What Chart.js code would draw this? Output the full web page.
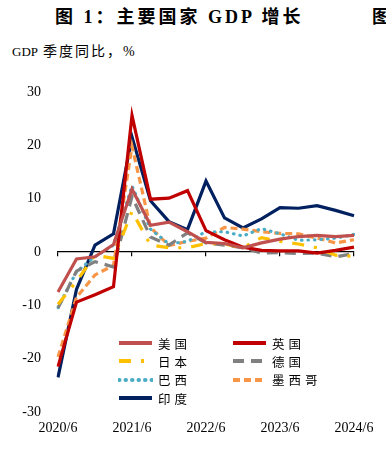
<!DOCTYPE html>
<html>
<head>
<meta charset="utf-8">
<script src="https://cdn.jsdelivr.net/npm/chart.js@4.4.1/dist/chart.umd.min.js"></script>
<style>
  html, body { margin: 0; padding: 0; background: #fff; }
  body { width: 386px; height: 464px; position: relative; overflow: hidden;
         font-family: "Liberation Serif", "Noto Sans CJK SC", serif; color: #000; }
  .title { position: absolute; top: 2px; font-size: 18px; font-weight: bold; letter-spacing: 3px; white-space: nowrap; }
  #subtitle { position: absolute; left: 12px; top: 40px; font-size: 14px; letter-spacing: 2px; white-space: nowrap; }
  #subtitle .en { font-size: 13px; letter-spacing: 0; margin-right: 5px; }
  #wrap { position: absolute; left: 0; top: 70px; width: 386px; height: 394px; }
  #legend { position: absolute; left: 118px; top: 334px; display: grid;
            grid-template-columns: 114px 110px; row-gap: 0; }
  .item { display: flex; align-items: center; height: 18.3px; font-size: 12.5px; letter-spacing: 4px;
          font-family: "Noto Sans CJK SC", serif; }
  .item svg { margin-right: 5px; }
</style>
</head>
<body>
<div class="title" style="left:55px">图 1：主要国家 GDP 增长</div>
<div class="title" style="left:372px">图</div>
<div id="subtitle"><span class="en">GDP</span>季度同比，%</div>
<div id="wrap"><canvas id="gdpChart" width="386" height="394"></canvas></div>
<div id="legend"></div>
<script>
const quarters = ['2020/6', '2020/9', '2020/12', '2021/3', '2021/6', '2021/9', '2021/12', '2022/3', '2022/6',
  '2022/9', '2022/12', '2023/3', '2023/6', '2023/9', '2023/12', '2024/3', '2024/6'];

const usa     = [-7.5, -1.3, -0.9, 1.4, 11.8, 5.0, 5.6, 3.8, 1.8, 1.6, 0.8, 1.7, 2.4, 2.9, 3.1, 2.9, 3.1];
const uk      = [-21.5, -9.4, -8.0, -6.5, 25.6, 9.9, 10.1, 11.5, 4.0, 2.3, 0.9, 0.3, 0.2, 0.2, -0.2, 0.3, 0.9];
const japan   = [-9.8, -5.5, -0.6, -1.2, 7.6, 1.3, 0.8, 0.8, 1.6, 1.5, 0.8, 2.7, 2.0, 1.5, 0.8, -0.6, -0.8];
const germany = [-10.5, -3.6, -1.8, -2.8, 10.4, 2.8, 1.3, 3.6, 1.7, 1.3, 0.8, -0.2, -0.1, -0.3, -0.2, -0.9, -0.3];
const brazil  = [-10.4, -3.7, -0.9, 1.3, 12.4, 4.3, 1.5, 2.0, 3.8, 3.8, 3.0, 4.4, 3.4, 2.2, 2.3, 2.6, 3.3];
const mexico  = [-19.7, -8.5, -4.3, -2.5, 19.8, 4.6, 1.2, 2.0, 2.6, 4.6, 4.3, 3.8, 3.5, 3.4, 2.6, 1.7, 2.3];
const india   = [-23.5, -7.0, 1.3, 3.4, 21.6, 9.6, 5.7, 4.2, 13.3, 6.4, 4.5, 6.2, 8.3, 8.2, 8.7, 7.8, 6.8];

const yTicks = [-30, -20, -10, 0, 10, 20, 30];

const serif = '"Liberation Serif", "Times New Roman", serif';

const line = (label, data, color, dash, cap) => ({
  label: label,
  data: data,
  borderColor: color,
  backgroundColor: color,
  borderWidth: 3.2,
  borderDash: dash || [],
  borderCapStyle: cap || 'butt',
  pointRadius: 0,
  tension: 0,
  fill: false
});

const datasets = [
  line('美国', usa, '#c0504d'),
  line('英国', uk, '#c00000'),
  line('日本', japan, '#ffc000', [12, 10, 3, 10]),
  line('德国', germany, '#808080', [11, 7]),
  line('巴西', brazil, '#4bacc6', [0.5, 6], 'round'),
  line('墨西哥', mexico, '#f79646', [7, 4]),
  line('印度', india, '#002060')
];

const yearTick = (i) => i % 4 === 0;

const ctx = document.getElementById('gdpChart').getContext('2d');
const chart = new Chart(ctx, {
  type: 'line',
  data: { labels: quarters, datasets: datasets },
  options: {
    responsive: false,
    animation: false,
    layout: { padding: { top: 22, right: 32, left: 8, bottom: 0 } },
    plugins: { legend: { display: false }, tooltip: { enabled: false } },
    scales: {
      x: {
        type: 'category',
        position: { y: 0 },
        ticks: { display: false, autoSkip: false },
        grid: {
          drawOnChartArea: false,
          drawTicks: true,
          tickLength: 4,
          lineWidth: 1.2,
          color: (c) => yearTick(c.index) ? '#000' : 'rgba(0,0,0,0)'
        },
        border: { display: true, color: '#000', width: 1.2 }
      },
      x2: {
        type: 'category',
        position: 'bottom',
        grid: { display: false, drawTicks: false },
        border: { display: false },
        ticks: {
          autoSkip: false,
          maxRotation: 0,
          minRotation: 0,
          padding: 8,
          color: '#000',
          font: { family: serif, size: 14 },
          callback: function (v, i) { return yearTick(i) ? quarters[i] : ''; }
        },
        afterFit: (s) => { s.height = 52; }
      },
      y: {
        min: -30,
        max: 30,
        afterBuildTicks: (s) => { s.ticks = yTicks.map(v => ({ value: v })); },
        grid: { display: false },
        border: { display: false },
        ticks: { color: '#000', padding: 9, font: { family: serif, size: 14 } },
        afterFit: (s) => { s.width = 50; }
      }
    }
  }
});

// legend drawn in the plot area, two columns
const legend = document.getElementById('legend');
chart.data.datasets.forEach(ds => {
  const item = document.createElement('div');
  item.className = 'item';
  const dash = ds.borderDash.length ? ds.borderDash.join(' ') : 'none';
  item.innerHTML = '<svg width="35" height="8"><line x1="1" y1="4" x2="34" y2="4" stroke="' + ds.borderColor +
    '" stroke-width="4" stroke-linecap="' + ds.borderCapStyle + '" stroke-dasharray="' + dash + '"/></svg>' +
    '<span>' + ds.label + '</span>';
  legend.appendChild(item);
});
</script>
</body>
</html>
